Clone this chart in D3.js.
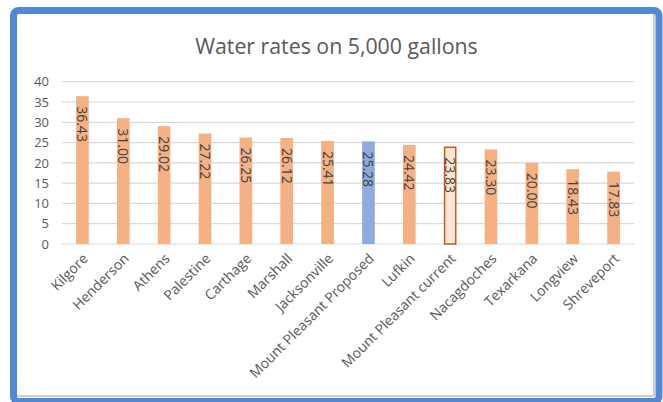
<!DOCTYPE html>
<html><head><meta charset="utf-8">
<script src="https://cdn.jsdelivr.net/npm/d3@7"></script>
<style>body{margin:0;background:#fff}svg{display:block}</style>
</head><body>
<svg id="c" width="663" height="402"></svg>
<script>
const categories = ["Kilgore","Henderson","Athens","Palestine","Carthage","Marshall","Jacksonville","Mount Pleasant Proposed","Lufkin","Mount Pleasant current","Nacagdoches","Texarkana","Longview","Shreveport"];
const values = [36.43,31.00,29.02,27.22,26.25,26.12,25.41,25.28,24.42,23.83,23.30,20.00,18.43,17.83];
const yTicks = [0,5,10,15,20,25,30,35,40];
const title = "Water rates on 5,000 gallons";

const svg = d3.select("#c");
const font = "'Open Sans', sans-serif";
const W = 663, H = 402;
const plot = {left:62, right:634, top:81.7, bottom:244};

// frame
svg.append("rect").attr("x",0).attr("y",0).attr("width",W).attr("height",H).attr("fill","#fff");
svg.append("line").attr("x1",17).attr("x2",654).attr("y1",396).attr("y2",396).attr("stroke","#cfcfcf").attr("stroke-width",2);
svg.append("line").attr("x1",654).attr("x2",654).attr("y1",14).attr("y2",397).attr("stroke","#cfcfcf").attr("stroke-width",2);
svg.append("rect").attr("x",13.5).attr("y",10.5).attr("width",645.5).attr("height",391)
  .attr("rx",5).attr("fill","none").attr("stroke","#5289D6").attr("stroke-width",7);

const x = d3.scaleBand().domain(categories).range([plot.left, plot.right]).paddingInner(0.69).paddingOuter(0.345);
const y = d3.scaleLinear().domain([0,40]).range([plot.bottom, plot.top]);

// gridlines
svg.append("g").selectAll("line").data(yTicks).join("line")
  .attr("x1",plot.left).attr("x2",plot.right)
  .attr("y1",d=>y(d)).attr("y2",d=>y(d))
  .attr("stroke","#d9d9d9").attr("stroke-width",1.2);

// y axis labels
const yAxis = d3.axisLeft(y).tickValues(yTicks).tickSize(0).tickPadding(0).tickFormat(d3.format("d"));
const ya = svg.append("g").attr("transform",`translate(49,0)`).call(yAxis);
ya.select(".domain").remove();
ya.selectAll("text").attr("font-family",font).attr("font-size",13).attr("fill","#595959");

// bars
const fillFor = (d,i) => categories[i]==="Mount Pleasant Proposed" ? "#8FAADC" : (categories[i]==="Mount Pleasant current" ? "#FBE5D6" : "#F4B183");
svg.append("g").selectAll("rect").data(values).join("rect")
  .attr("x",(d,i)=>x(categories[i]) + (categories[i]==="Mount Pleasant current"?0.75:0))
  .attr("y",d=>y(d))
  .attr("width",(d,i)=>x.bandwidth() - (categories[i]==="Mount Pleasant current"?1.5:0))
  .attr("height",d=>y(0)-y(d))
  .attr("fill",fillFor)
  .attr("stroke",(d,i)=>categories[i]==="Mount Pleasant current" ? "#C55A11" : "none")
  .attr("stroke-width",1.5);

// x axis
const xAxis = d3.axisBottom(x).tickSize(0).tickPadding(0);
const xa = svg.append("g").attr("transform",`translate(0,${plot.bottom})`).call(xAxis);
xa.select(".domain").remove();
xa.selectAll("text")
  .attr("font-family",font).attr("font-size",14).attr("fill","#595959")
  .attr("text-anchor","end").attr("dy","0.35em")
  .attr("transform","translate(3,12) rotate(-45)");

// data labels
svg.append("g").selectAll("text").data(values).join("text")
  .attr("transform",(d,i)=>`translate(${x(categories[i])+x.bandwidth()/2},${y(d)+10}) rotate(90)`)
  .attr("dy","0.36em")
  .attr("font-family",font).attr("font-size",14).attr("fill","#404040")
  .text(d=>d3.format(".2f")(d));

// title
svg.append("text").attr("x",336.5).attr("y",54).attr("text-anchor","middle")
  .attr("font-family",font).attr("font-size",21.3).attr("fill","#595959").text(title);
</script>
</body></html>
